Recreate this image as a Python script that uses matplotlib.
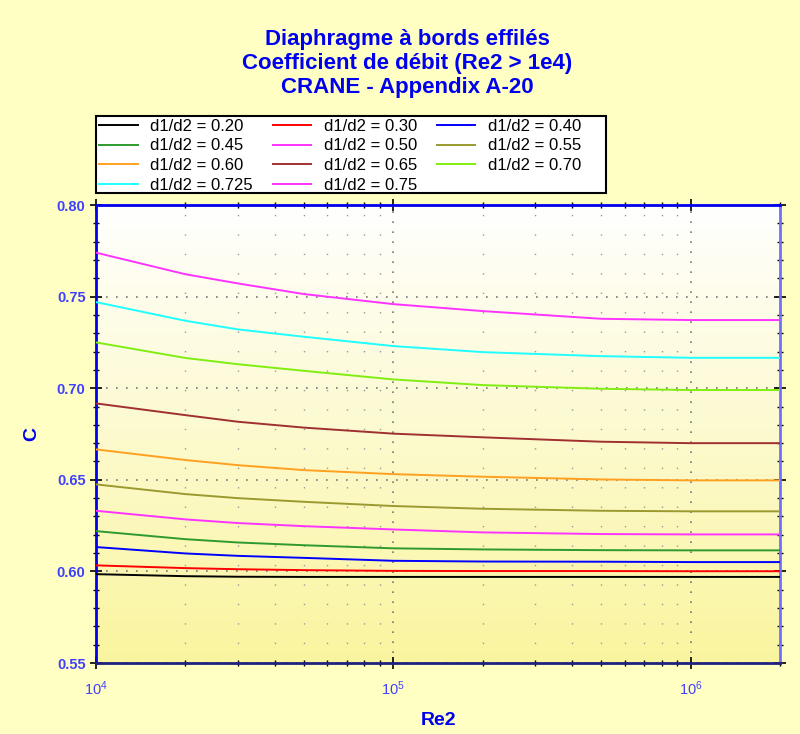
import numpy as np
import matplotlib
matplotlib.use("Agg")
import matplotlib.pyplot as plt
from matplotlib.patches import Rectangle
from matplotlib.ticker import LogLocator, MultipleLocator, NullFormatter

plt.rcParams['font.family'] = ['Liberation Sans', 'DejaVu Sans']

# Reynolds numbers where the curves were read
re2 = [1e4, 2e4, 3e4, 5e4, 1e5, 2e5, 5e5, 1e6, 2e6]

ratios = ["0.20", "0.30", "0.40", "0.45", "0.50", "0.55",
          "0.60", "0.65", "0.70", "0.725", "0.75"]

c_020 = [0.5985, 0.5974, 0.5971, 0.5970, 0.5970, 0.5970, 0.5970, 0.5970, 0.5970]
c_030 = [0.6033, 0.6018, 0.6012, 0.6007, 0.6003, 0.6002, 0.6002, 0.6001, 0.6001]
c_040 = [0.6133, 0.6098, 0.6085, 0.6074, 0.6058, 0.6054, 0.6053, 0.6051, 0.6051]
c_045 = [0.6220, 0.6176, 0.6158, 0.6143, 0.6126, 0.6120, 0.6116, 0.6115, 0.6115]
c_050 = [0.6331, 0.6284, 0.6264, 0.6247, 0.6229, 0.6213, 0.6204, 0.6202, 0.6202]
c_055 = [0.6475, 0.6422, 0.6400, 0.6380, 0.6357, 0.6342, 0.6331, 0.6328, 0.6328]
c_060 = [0.6666, 0.6608, 0.6580, 0.6553, 0.6531, 0.6517, 0.6502, 0.6497, 0.6497]
c_065 = [0.6917, 0.6853, 0.6817, 0.6785, 0.6752, 0.6732, 0.6708, 0.6700, 0.6700]
c_070 = [0.7250, 0.7165, 0.7131, 0.7095, 0.7048, 0.7017, 0.6997, 0.6990, 0.6990]
c_0725 = [0.7470, 0.7368, 0.7321, 0.7281, 0.7230, 0.7197, 0.7175, 0.7166, 0.7166]
c_075 = [0.7740, 0.7622, 0.7572, 0.7514, 0.7459, 0.7421, 0.7379, 0.7372, 0.7372]

series = [c_020, c_030, c_040, c_045, c_050, c_055,
          c_060, c_065, c_070, c_0725, c_075]
colors = ['black', '#ff0000', '#0000ff', '#2e9a2e', '#ff33ff', '#9a9a30',
          '#ffa020', '#a03030', '#80ee10', '#20ffff', '#ff33ff']

blue = '#0000ee'
tick_blue = '#4040ff'

fig = plt.figure(figsize=(8, 7.34), dpi=100)
fig.patch.set_facecolor('#ffffc4')
ax = fig.add_axes([0.12, 0.0967, 0.855, 0.624])

# gradient background, white at top to yellow at bottom
grad = np.linspace(0, 1, 256).reshape(-1, 1)
top = np.array([1.0, 1.0, 1.0])
bot = np.array([0.98, 0.96, 0.62])
img = top * (1 - grad[..., None]) + bot * grad[..., None]
ax.imshow(img, extent=[0, 1, 0, 1], transform=ax.transAxes,
          aspect='auto', origin='upper', zorder=0)

lines = []
for vals, col, r in zip(series, colors, ratios):
    ln, = ax.plot(re2, vals, color=col, lw=1.4, label="d1/d2 = " + r, zorder=3)
    lines.append(ln)

ax.set_xscale('log')
ax.set_xlim(1e4, 2e6)
ax.set_ylim(0.55, 0.80)
ax.xaxis.set_major_locator(LogLocator(base=10, numticks=10))
ax.xaxis.set_minor_locator(LogLocator(base=10, subs=np.arange(2, 10), numticks=20))
ax.xaxis.set_minor_formatter(NullFormatter())
ax.yaxis.set_major_locator(MultipleLocator(0.05))
ax.yaxis.set_minor_locator(MultipleLocator(0.01))
ax.yaxis.set_major_formatter(plt.FormatStrFormatter('%.2f'))

ax.grid(which='major', color='#777777', linestyle=(0, (1, 5)), lw=1.2, zorder=1)
ax.grid(which='minor', axis='x', color='#999999', linestyle=(0, (1, 13)), lw=1.0, zorder=1)

ax.tick_params(which='both', direction='inout', color='black',
               top=True, right=True, labelcolor=tick_blue)
ax.tick_params(which='major', length=8, width=1.2, labelsize=10.5)
ax.tick_params(axis='x', which='major', pad=8)
ax.tick_params(which='minor', length=5, width=1.0)
for lab in ax.get_yticklabels():
    lab.set_fontweight('bold')

ax.spines['left'].set_color(blue)
ax.spines['top'].set_color(blue)
ax.spines['right'].set_color('#7070ff')
ax.spines['bottom'].set_color('#202080')
for s in ax.spines.values():
    s.set_linewidth(2)

ax.set_xlabel('Re2', fontsize=14, fontweight='bold', color=blue, labelpad=10)
ax.set_ylabel('C', fontsize=14, fontweight='bold', color=blue, labelpad=12)

fig.text(0.509, 0.913, "Diaphragme à bords effilés\nCoefficient de débit (Re2 > 1e4)\nCRANE - Appendix A-20",
         ha='center', va='center', fontsize=16, fontweight='bold', color=blue,
         linespacing=1.18)

# legend box drawn separately (behind the legend) so its width matches the original
fig.patches.append(Rectangle((0.12, 1 - 193 / 734), 0.6375, 77 / 734,
                             transform=fig.transFigure, facecolor='white',
                             edgecolor='black', lw=1.5, zorder=-1))

# row-wise order as in the reference legend
order = [0, 3, 6, 9, 1, 4, 7, 10, 2, 5, 8]
leg = ax.legend([lines[i] for i in order], ["d1/d2 = " + ratios[i] for i in order],
                ncol=3, loc='upper left', bbox_to_anchor=(0.122, 1 - 117 / 734),
                bbox_transform=fig.transFigure, fontsize=12, frameon=False,
                handlelength=2.3, handletextpad=0.75, borderpad=0.1,
                labelspacing=0.28, borderaxespad=0, columnspacing=1.2)

fig.savefig('out.png', dpi=100, facecolor=fig.get_facecolor())
